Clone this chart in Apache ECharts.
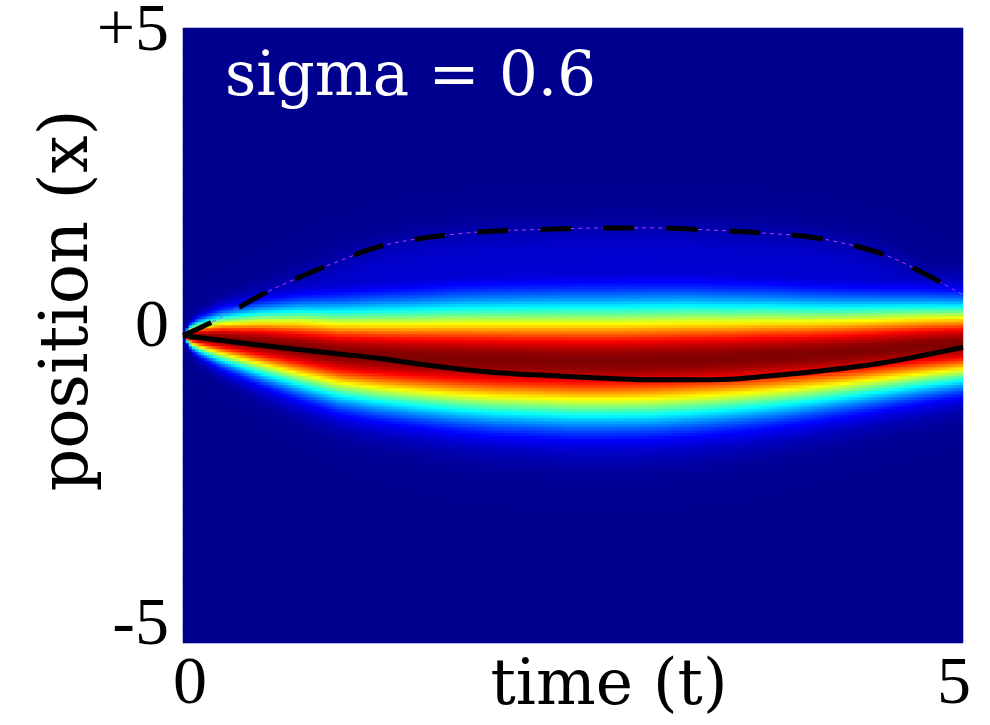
<!DOCTYPE html>
<html>
<head>
<meta charset="utf-8">
<script src="https://cdn.jsdelivr.net/npm/echarts@6/dist/echarts.min.js"></script>
<style>
  html, body { margin: 0; padding: 0; background: #ffffff; }
  #chart { width: 990px; height: 725px; }
</style>
</head>
<body>
<div id="chart"></div>
<script>
// Density band: centre and spread (in position units) at knot times
const knotTimes  = [0, 0.05, 0.1, 0.25, 0.5, 0.75, 1, 1.25, 1.5, 1.75, 2, 2.25, 2.5, 2.75, 3, 3.25, 3.5, 3.75, 4, 4.25, 4.5, 4.75, 5];
const bandCenter = [0, -0.01, -0.02, -0.05, -0.12, -0.20, -0.29, -0.33, -0.36, -0.38, -0.40, -0.41, -0.42, -0.42, -0.41, -0.39, -0.37, -0.34, -0.31, -0.27, -0.22, -0.17, -0.13];
const bandWidth  = [0, 0.11, 0.16, 0.25, 0.35, 0.43, 0.49, 0.53, 0.56, 0.59, 0.61, 0.62, 0.63, 0.63, 0.63, 0.62, 0.60, 0.58, 0.55, 0.52, 0.49, 0.46, 0.43];
// faint tail level between the band and the upper path
const tailLevel = 0.075;

// Paths drawn over the density
const lineTimes = [0, 0.25, 0.5, 0.75, 1, 1.25, 1.5, 1.75, 2, 2.25, 2.5, 2.75, 3, 3.25, 3.5, 3.75, 4, 4.25, 4.5, 4.75, 5];
const meanPath  = [0, -0.08, -0.16, -0.23, -0.30, -0.37, -0.46, -0.54, -0.60, -0.64, -0.67, -0.70, -0.72, -0.72, -0.71, -0.66, -0.60, -0.53, -0.44, -0.32, -0.19];
const upperPath = [0, 0.30, 0.66, 0.95, 1.21, 1.44, 1.57, 1.65, 1.70, 1.72, 1.74, 1.75, 1.75, 1.73, 1.70, 1.66, 1.61, 1.49, 1.31, 1.01, 0.66];

// Axis ticks
const timeTicks = [0, 5];
const posTicks  = [-5, 0, 5];
const posTickText = { '-5': '-5', '0': '0', '5': '+5' };

const jet = ['#00008f', '#0000ff', '#0080ff', '#00ffff', '#80ff80', '#ffff00', '#ff8000', '#ff0000', '#800000'];

function lerp(ts, vs, t) {
  if (t <= ts[0]) return vs[0];
  for (let k = 1; k < ts.length; k++) {
    if (t <= ts[k]) {
      const f = (t - ts[k - 1]) / (ts[k] - ts[k - 1]);
      return vs[k - 1] + f * (vs[k] - vs[k - 1]);
    }
  }
  return vs[vs.length - 1];
}
const logistic = z => 1 / (1 + Math.exp(-z));

// Grid of density cells
const NT = 260, NX = 205;
const tCats = [], xCats = [];
for (let i = 0; i < NT; i++) tCats.push(((i + 0.5) * 5 / NT).toFixed(4));
for (let j = 0; j < NX; j++) xCats.push((-5 + (j + 0.5) * 10 / NX).toFixed(4));

const cells = [];
for (let i = 0; i < NT; i++) {
  const t = (i + 0.5) * 5 / NT;
  const c = lerp(knotTimes, bandCenter, t);
  const s = Math.max(lerp(knotTimes, bandWidth, t), 1e-3);
  const u = lerp(lineTimes, upperPath, t);
  for (let j = 0; j < NX; j++) {
    const x = -5 + (j + 0.5) * 10 / NX;
    const g = Math.exp(-((x - c) * (x - c)) / (2 * s * s));
    const h = tailLevel * logistic((x - c) / 0.12) * logistic((u - x) / 0.15);
    cells.push([i, j, Math.max(g, h)]);
  }
}

const serif = '"DejaVu Serif", "Liberation Serif", serif';
const tickFont = '"Liberation Serif", "DejaVu Serif", serif';
const chart = echarts.init(document.getElementById('chart'), null, { renderer: 'canvas' });

const plotBox = { left: 183, top: 28, width: 780, height: 615, containLabel: false, outerBoundsMode: 'none' };

chart.setOption({
  animation: false,
  backgroundColor: '#ffffff',
  grid: [Object.assign({}, plotBox), Object.assign({}, plotBox)],
  xAxis: [
    { type: 'category', gridIndex: 0, data: tCats, show: false },
    {
      type: 'value', gridIndex: 1, min: 0, max: 5, interval: 5,
      axisLine: { show: false }, axisTick: { show: false }, splitLine: { show: false },
      axisLabel: {
        margin: 8,
        formatter: v => (v === 0 ? '{a|0}' : '{b|5}'),
        rich: {
          a: { fontFamily: tickFont, fontSize: 68, color: '#000', padding: [0, 0, 0, 14] },
          b: { fontFamily: tickFont, fontSize: 68, color: '#000', padding: [0, 18, 0, 0] }
        }
      },
      name: 'time (t)', nameLocation: 'middle', nameGap: 13, nameMoveOverlap: false,
      nameTextStyle: { fontFamily: serif, fontSize: 63, color: '#000', padding: [0, 0, 0, 72] }
    }
  ],
  yAxis: [
    { type: 'category', gridIndex: 0, data: xCats, show: false },
    {
      type: 'value', gridIndex: 1, min: -5, max: 5, interval: 5,
      axisLine: { show: false }, axisTick: { show: false }, splitLine: { show: false },
      axisLabel: {
        margin: 14,
        formatter: v => {
          const txt = posTickText[String(v)];
          return v > 0 ? '{p|' + txt + '}' : v === 0 ? '{z|' + txt + '}' : '{m|' + txt + '}';
        },
        rich: {
          p: { fontFamily: tickFont, fontSize: 68, color: '#000', padding: [8, 0, 0, 0] },
          z: { fontFamily: tickFont, fontSize: 68, color: '#000', padding: [0, 0, 14, 0] },
          m: { fontFamily: tickFont, fontSize: 68, color: '#000', padding: [0, 0, 33, 0] }
        }
      },
      name: 'position (x)', nameLocation: 'middle', nameGap: 80, nameRotate: 90, nameMoveOverlap: false,
      nameTextStyle: { fontFamily: serif, fontSize: 67, color: '#000', padding: [0, 0, 0, 70] }
    }
  ],
  visualMap: {
    type: 'continuous', show: false, seriesIndex: 0, dimension: 2,
    min: 0, max: 1, inRange: { color: jet }
  },
  graphic: [{
    type: 'text', left: 225, top: 49, z: 100,
    style: { text: 'sigma = 0.6', fill: '#ffffff', font: '61px ' + serif }
  }],
  series: [
    {
      type: 'heatmap', xAxisIndex: 0, yAxisIndex: 0, data: cells,
      progressive: 0, emphasis: { disabled: true }, itemStyle: { borderWidth: 0 }
    },
    {
      type: 'line', xAxisIndex: 1, yAxisIndex: 1, symbol: 'none', smooth: 0.35,
      data: lineTimes.map((t, k) => [t, upperPath[k]]),
      lineStyle: { color: '#b53cf0', width: 1, type: [4, 4] }, z: 3
    },
    {
      type: 'line', xAxisIndex: 1, yAxisIndex: 1, symbol: 'none', smooth: 0.35,
      data: lineTimes.map((t, k) => [t, upperPath[k]]),
      lineStyle: { color: '#000000', width: 5, type: [31, 32], cap: 'butt' }, z: 4
    },
    {
      type: 'line', xAxisIndex: 1, yAxisIndex: 1, symbol: 'none', smooth: 0.35,
      data: lineTimes.map((t, k) => [t, meanPath[k]]),
      lineStyle: { color: '#000000', width: 5 }, z: 4
    }
  ]
});
</script>
</body>
</html>
